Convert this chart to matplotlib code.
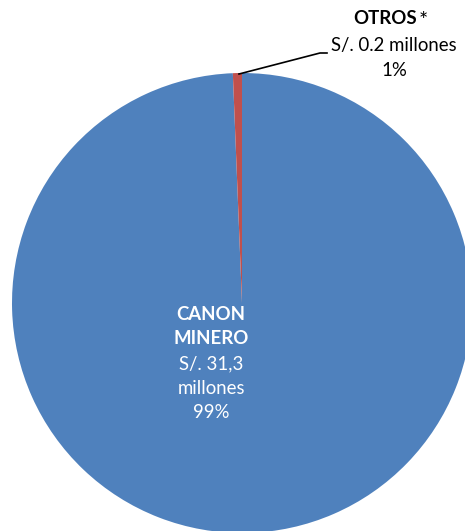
import matplotlib.pyplot as plt

# datos (millones de soles)
labels = ['CANON\nMINERO', 'OTROS *']
montos = [31.3, 0.2]
montos_txt = ['S/. 31,3\nmillones', 'S/. 0.2 millones']
pct_txt = ['99%', '1%']
colores = ['#4F81BD', '#C0504D']

W, H = 465, 531
fig = plt.figure(figsize=(W / 100, H / 100), dpi=100)
ax = fig.add_axes([0, 0, 1, 1])

cx, cy, r = 242, H - 303, 230
ax.pie(montos, colors=colores, startangle=90, counterclock=False,
       center=(cx, cy), radius=r, frame=True,
       wedgeprops=dict(linewidth=0))
ax.set_xlim(0, W)
ax.set_ylim(0, H)
ax.set_aspect('equal')
ax.axis('off')

fuente = ['Lato', 'DejaVu Sans']
fs = 13.4

# etiqueta canon minero (dentro)
x1 = 211
ax.text(x1, H - 315, 'CANON', color='white', fontsize=fs, fontweight='bold',
        ha='center', va='center', family=fuente)
ax.text(x1, H - 339, 'MINERO', color='white', fontsize=fs, fontweight='bold',
        ha='center', va='center', family=fuente)
ax.text(x1, H - 364, 'S/. 31,3', color='white', fontsize=fs,
        ha='center', va='center', family=fuente)
ax.text(x1, H - 388, 'millones', color='white', fontsize=fs,
        ha='center', va='center', family=fuente)
ax.text(x1, H - 413, pct_txt[0], color='white', fontsize=fs,
        ha='center', va='center', family=fuente)

# etiqueta otros (fuera)
x2 = 394
ax.text(417, H - 19, 'OTROS', color='black', fontsize=fs, fontweight='bold',
        ha='right', va='center', family=fuente)
ax.text(419, H - 21, '*', color='black', fontsize=fs + 2,
        ha='left', va='center', family=fuente)
ax.text(x2, H - 45, montos_txt[1], color='black', fontsize=fs,
        ha='center', va='center', family=fuente)
ax.text(x2, H - 70, pct_txt[1], color='black', fontsize=fs,
        ha='center', va='center', family=fuente)

ax.plot([239, 320, 327], [H - 74, H - 53, H - 53], color='black', linewidth=1.2)

fig.savefig('out.png', dpi=100)
